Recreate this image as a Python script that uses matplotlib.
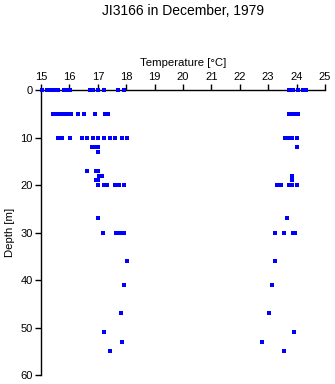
import matplotlib.pyplot as plt

plt.rcParams['font.family'] = ['Liberation Sans', 'DejaVu Sans']

# cooler station: temperature readings (degC) and their depths (m)
temp_left = [
    # 0 m
    15.02, 15.22, 15.3, 15.38, 15.46, 15.53, 15.61, 15.81, 15.88, 15.96, 16.02,
    16.73, 16.82, 17.02, 17.22, 17.72, 17.92,
    # 5 m
    15.41, 15.49, 15.57, 15.65, 15.73, 15.81, 15.89, 15.97, 16.05, 16.31, 16.52, 16.91,
    17.25, 17.35,
    # 10 m
    15.61, 15.67, 15.73, 16.02, 16.43, 16.63, 16.82, 17.02, 17.22, 17.43, 17.62, 17.84, 18.02,
    # 12, 13 m
    16.8, 16.92, 17.02, 17.02,
    # 17, 18, 19 m
    16.63, 16.92, 17.02, 17.04, 17.14, 16.92, 17.02,
    # 20 m
    17.02, 17.22, 17.32, 17.62, 17.74, 17.93,
    # 27, 30 m
    17.02, 17.2, 17.64, 17.78, 17.93,
    # 36 .. 55 m
    18.02, 17.93, 17.83, 17.23, 17.86, 17.44,
]
depth_left = [0] * 17 + [5] * 14 + [10] * 13 + [12] * 3 + [13] + [17] * 3 + [18] * 2 + [19] * 2 \
    + [20] * 6 + [27] + [30] * 4 + [36, 41, 47, 51, 53, 55]

# warmer station
temp_right = [
    23.74, 23.82, 23.88, 24.04, 24.24, 24.34,      # 0 m
    23.73, 23.82, 23.92, 24.05,                    # 5 m
    23.6, 23.72, 23.84, 24.03,                     # 10 m
    24.03,                                         # 12 m
    23.85, 23.85,                                  # 18, 19 m
    23.3, 23.44, 23.72, 23.84, 24.03,              # 20 m
    23.68,                                         # 27 m
    23.25, 23.55, 23.86, 23.95,                    # 30 m
    23.24, 23.14, 23.04, 23.9, 22.8, 23.57,        # 36 .. 55 m
]
depth_right = [0] * 6 + [5] * 4 + [10] * 4 + [12] + [18, 19] + [20] * 5 + [27] + [30] * 4 \
    + [36, 41, 47, 51, 53, 55]

xticks = list(range(15, 26))
yticks = list(range(0, 61, 10))

fig = plt.figure(figsize=(3.35, 3.84), dpi=100)
ax = fig.add_axes([0.1224, 0.0234, 0.8476, 0.7422])

for temps, depths in [(temp_left, depth_left), (temp_right, depth_right)]:
    ax.plot(temps, depths, 's', color='#0000ff', markersize=2.2, mew=0,
            clip_on=False, zorder=3)

ax.set_xlim(15, 25)
ax.set_ylim(60, 0)
ax.set_xticks(xticks)
ax.set_yticks(yticks)

ax.spines['bottom'].set_visible(False)
ax.spines['right'].set_visible(False)
ax.spines['top'].set_linewidth(1.0)
ax.spines['left'].set_linewidth(1.0)
ax.xaxis.tick_top()
ax.xaxis.set_label_position('top')
ax.tick_params(axis='both', direction='out', length=4, width=1.0, labelsize=8, pad=2)

ax.set_xlabel('Temperature [°C]', fontsize=8.2, labelpad=4)
ax.set_ylabel('Depth [m]', fontsize=8.2, labelpad=4)

fig.text(0.546, 0.972, 'JI3166 in December, 1979', ha='center', va='center', fontsize=10)

fig.savefig('out.png', dpi=100)
